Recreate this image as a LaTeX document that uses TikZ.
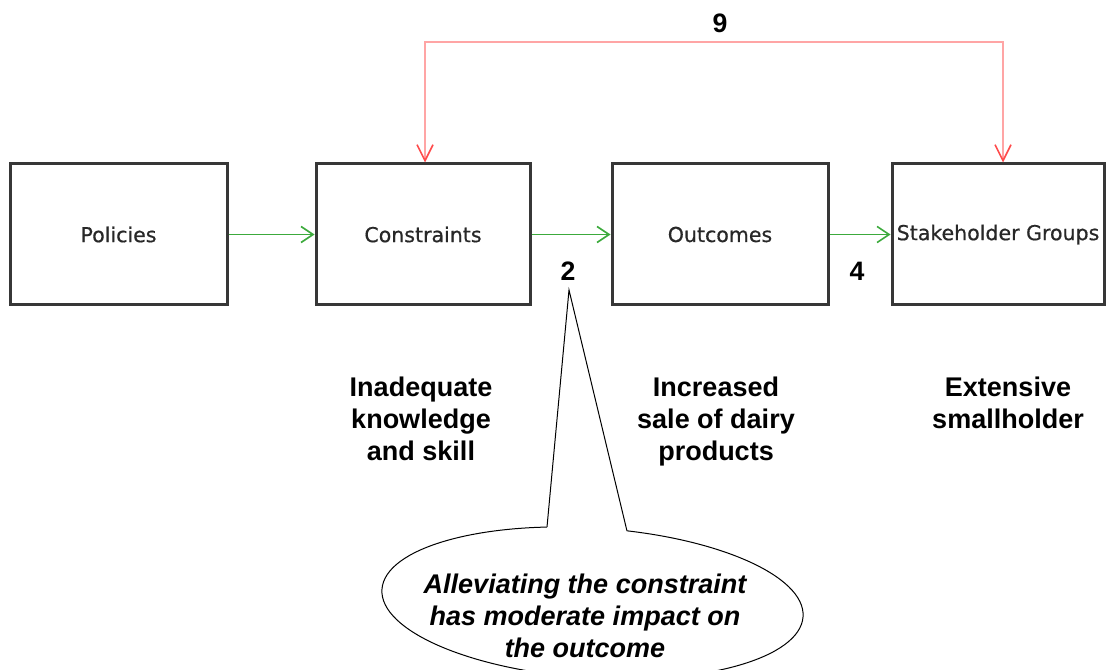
\documentclass[tikz,border=0pt]{standalone}
\usepackage{fontspec}
\setmainfont{Liberation Sans}
\newfontfamily\boxfont{DejaVu Sans}[FakeBold=0.6]
\usetikzlibrary{arrows.meta}
\definecolor{boxedge}{RGB}{55,55,55}
\definecolor{boxtext}{RGB}{40,40,40}
\definecolor{flowgreen}{RGB}{60,170,60}
\definecolor{fbline}{RGB}{255,165,165}
\definecolor{fbhead}{RGB}{255,75,75}
\begin{document}
\begin{tikzpicture}[x=0.75pt,y=-0.75pt,
  stage/.style={draw=boxedge, line width=2.25pt, fill=white, inner sep=0pt,
    minimum height=105.75pt, text=boxtext, font=\boxfont\fontsize{15.4}{18}\selectfont},
  flow/.style={draw=flowgreen, line width=1.2pt,
    -{Straight Barb[length=9pt,width=12pt,line width=1.2pt]}},
  feedback/.style={draw=fbline, line width=1.5pt,
    {Straight Barb[length=12pt,width=12pt,line width=1.2pt,color=fbhead]}-{Straight Barb[length=12pt,width=12pt,line width=1.2pt,color=fbhead]}},
  bignum/.style={font=\bfseries\fontsize{20}{24}\selectfont, inner sep=0pt},
  lbl/.style={font=\bfseries\fontsize{20.25}{24}\selectfont, align=center, inner sep=0pt},
  calltext/.style={font=\bfseries\itshape\fontsize{20.25}{24}\selectfont, align=center, inner sep=0pt},
  callline/.style={draw=black, line width=0.75pt}
]
\path[use as bounding box] (0,0) rectangle (1110,670);

% main chain of boxes
\node[stage, minimum width=162.75pt] (pol)   at (118.5,234.5) {Policies};
\node[stage, minimum width=160.5pt]  (cons)  at (423,234.5)   {Constraints};
\node[stage, minimum width=162pt]    (outc)  at (720,234.5)   {Outcomes};
\node[stage, minimum width=159pt]    (stake) at (998,234.5)   {Stakeholder Groups};

\draw[flow] (pol) -- (cons);
\draw[flow] (cons) -- (outc);
\draw[flow] (outc) -- (stake);

% feedback link over the top
\coordinate (fbL) at (425,42);
\coordinate (fbR) at (1003,42);
\draw[feedback] (cons.north -| fbL) -- (fbL) -- (fbR) -- (stake.north -| fbR);

% scores
\node[bignum] (n9) at (720,23)  {9};
\node[bignum] (n2) at (568,271) {2};
\node[bignum] (n4) at (857,271) {4};

% descriptions under the boxes (anchored at the last baseline)
\node[lbl, anchor=base] (dcons)  at (421,460)  {Inadequate\\knowledge\\and skill};
\node[lbl, anchor=base] (doutc)  at (716,460)  {Increased\\sale of dairy\\products};
\node[lbl, anchor=base] (dstake) at (1008,428) {Extensive\\smallholder};

% speech bubble
\coordinate (tip) at (569,290);
\coordinate (bl) at (547,527);
\coordinate (br) at (627,531);
\draw[callline, fill=white, rotate around={-3.7:(592.5,603)}]
  (592.5,603) ellipse [x radius=158.25pt, y radius=56.25pt];
\fill[white] (tip) -- (bl) -- ([yshift=-6pt]bl) -- ([yshift=-6pt]br) -- (br) -- cycle;
\draw[callline] (bl) -- (tip) -- (br);
\node[calltext, anchor=base] (note) at (585,657)
  {Alleviating the constraint\\has moderate impact on\\the outcome};
\end{tikzpicture}
\end{document}
